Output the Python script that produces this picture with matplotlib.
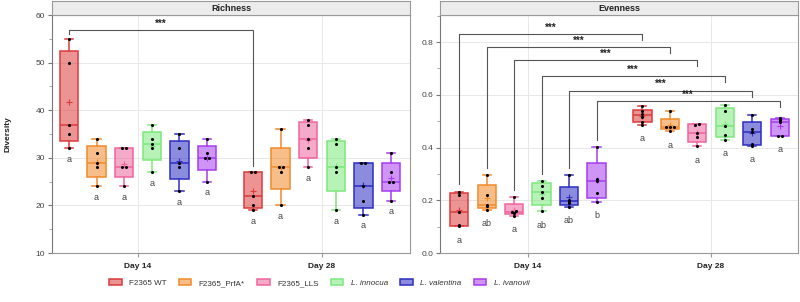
import matplotlib
matplotlib.use('Agg')
import matplotlib.pyplot as plt
from matplotlib.colors import to_rgba
from matplotlib.patches import Patch
from matplotlib.ticker import MultipleLocator
import numpy as np

plt.rcParams['font.family'] = ['Liberation Sans', 'DejaVu Sans']

# strains and sampling days
groups = ['F2365 WT', 'F2365_PrfA*', 'F2365_LLS', 'L. innocua', 'L. valentina', 'L. ivanovii']
italic_groups = ['L. innocua', 'L. valentina', 'L. ivanovii']
days = ['Day 14', 'Day 28']
colors = ['#dd3b3b', '#f28a2a', '#f0649f', '#7de87d', '#2e2ec4', '#a63cf0']

# richness values, one list per strain
richness_d14 = [[55, 50, 37, 35, 32], [34, 31, 29, 28, 24], [32, 32, 28, 28, 24],
                [37, 34, 33, 32, 27], [35, 32, 29, 28, 23], [34, 31, 30, 30, 25]]
richness_d28 = [[27, 27, 22, 20, 19], [36, 28, 28, 27, 20], [38, 37, 34, 32, 28],
                [34, 33, 28, 27, 19], [29, 29, 24, 21, 18], [31, 27, 25, 25, 21]]
richness_letters_d14 = ['a', 'a', 'a', 'a', 'a', 'a']
richness_letters_d28 = ['a', 'a', 'a', 'a', 'a', 'a']

# evenness values
evenness_d14 = [[0.233, 0.220, 0.157, 0.107, 0.101], [0.296, 0.221, 0.184, 0.180, 0.165],
                [0.212, 0.159, 0.157, 0.153, 0.140], [0.272, 0.256, 0.233, 0.210, 0.158],
                [0.295, 0.203, 0.199, 0.188, 0.176], [0.402, 0.279, 0.275, 0.226, 0.195]]
evenness_d28 = [[0.559, 0.538, 0.528, 0.517, 0.498, 0.486], [0.538, 0.479, 0.477, 0.476, 0.461],
                [0.488, 0.487, 0.454, 0.440, 0.404], [0.560, 0.537, 0.480, 0.448, 0.430],
                [0.522, 0.470, 0.458, 0.414, 0.405], [0.513, 0.503, 0.498, 0.443, 0.443]]
evenness_letters_d14 = ['a', 'ab', 'a', 'ab', 'ab', 'b']
evenness_letters_d28 = ['a', 'a', 'a', 'a', 'a', 'a']

# significance brackets: (strain index, label)
richness_sig = [(0, '***')]
evenness_sig = [(0, '***'), (1, '***'), (2, '***'), (3, '***'), (4, '***'), (5, '***')]
evenness_bracket_tops = [0.83, 0.78, 0.73, 0.67, 0.615, 0.575]

GROUP_STEP = 0.15
BOX_W = 0.1
GRAY = '#555555'


def box_stats(vals):
    v = np.array(vals, dtype=float)
    q1, med, q3 = np.percentile(v, [25, 50, 75], method='weibull')
    return dict(med=med, q1=q1, q3=q3, whislo=v.min(), whishi=v.max(),
                mean=v.mean(), fliers=[])


# spread tied points sideways so they don't sit on top of each other
def dot_offsets(vals, tol, step):
    v = np.array(vals, dtype=float)
    order = np.argsort(v)
    offs = np.zeros(len(v))
    clusters = [[order[0]]]
    for i in order[1:]:
        if abs(v[i] - v[clusters[-1][-1]]) < tol:
            clusters[-1].append(i)
        else:
            clusters.append([i])
    for c in clusters:
        k = len(c)
        for j, idx in enumerate(c):
            offs[idx] = (j - (k - 1) / 2) * step
    return offs


def xpos(day, g):
    return day + (g - 2.5) * GROUP_STEP


def draw_panel(ax, d14, d28, let14, let28, tol, letter_gap):
    for day, data, letters in [(0, d14, let14), (1, d28, let28)]:
        for g, vals in enumerate(data):
            x = xpos(day, g)
            c = colors[g]
            ax.bxp([box_stats(vals)], positions=[x], widths=BOX_W, capwidths=0.045,
                   patch_artist=True, showmeans=True, manage_ticks=False,
                   boxprops=dict(facecolor=to_rgba(c, 0.55), edgecolor=c, linewidth=1.1),
                   medianprops=dict(color=c, linewidth=1.1),
                   whiskerprops=dict(color=c, linewidth=1.1),
                   capprops=dict(color=c, linewidth=1.1),
                   meanprops=dict(marker='+', markeredgecolor=c, markersize=4,
                                  markeredgewidth=0.8),
                   zorder=3)
            offs = dot_offsets(vals, tol, 0.022)
            ax.scatter(x + offs, vals, s=5, color='black', zorder=5, linewidths=0)
            ax.text(x, min(vals) - letter_gap, letters[g], ha='center', va='center',
                    fontsize=6.5, color='#444444', zorder=5)


def bracket(ax, g, label, top, left_end, right_end, text_gap):
    x0, x1 = xpos(0, g), xpos(1, g)
    ax.plot([x0, x0, x1, x1], [left_end, top, top, right_end], color=GRAY,
            linewidth=0.8, zorder=2)
    ax.text((x0 + x1) / 2, top + text_gap, label, ha='center', va='center',
            fontsize=7, fontweight='bold', color='#222222', zorder=6)


def style_axes(ax, xlim, ylim, major, minor, fmt):
    ax.set_xlim(*xlim)
    ax.set_ylim(*ylim)
    ax.set_xticks([0, 1])
    ax.set_xticklabels(days, fontsize=6, fontweight='bold', color='#222222')
    ax.yaxis.set_major_locator(MultipleLocator(major))
    ax.yaxis.set_minor_locator(MultipleLocator(minor))
    ax.yaxis.set_major_formatter(fmt)
    ax.tick_params(axis='y', which='major', length=3, width=0.8, color='#777777',
                   labelsize=6, labelcolor='#444444', pad=2)
    ax.tick_params(axis='y', which='minor', length=2, width=0.6, color='#999999')
    ax.tick_params(axis='x', length=3, width=0.8, color='#999999', pad=4)
    ax.grid(True, which='major', color='#e8e8e8', linewidth=0.7, zorder=0)
    ax.set_axisbelow(True)
    for s in ax.spines.values():
        s.set_color('#999999')
        s.set_linewidth(0.8)
    ax.spines['left'].set_color('#777777')


def strip(fig, rect, title):
    sax = fig.add_axes(rect)
    sax.set_facecolor('#ececec')
    sax.set_xticks([])
    sax.set_yticks([])
    for s in sax.spines.values():
        s.set_color('#999999')
        s.set_linewidth(0.8)
    sax.text(0.5, 0.5, title, ha='center', va='center', fontsize=6.5,
             fontweight='bold', color='#222222', transform=sax.transAxes)


fig = plt.figure(figsize=(8.0, 3.02), dpi=100)
ax1 = fig.add_axes([0.065, 0.162, 0.4475, 0.788])
ax2 = fig.add_axes([0.55, 0.162, 0.4475, 0.788])
strip(fig, [0.065, 0.950, 0.4475, 0.046], 'Richness')
strip(fig, [0.55, 0.950, 0.4475, 0.046], 'Evenness')

# richness panel
draw_panel(ax1, richness_d14, richness_d28, richness_letters_d14, richness_letters_d28,
           tol=0.5, letter_gap=2.3)
for g, lab in richness_sig:
    top = max(richness_d14[g]) + 1.8
    bracket(ax1, g, lab, top, max(richness_d14[g]) + 1.0, max(richness_d28[g]) + 1.3, 1.4)
style_axes(ax1, (-0.467, 1.478), (10, 60), 10, 5, '{x:.0f}')
ax1.set_ylabel('Diversity', fontsize=6, fontweight='bold', color='#222222', labelpad=17)

# evenness panel
draw_panel(ax2, evenness_d14, evenness_d28, evenness_letters_d14, evenness_letters_d28,
           tol=0.004, letter_gap=0.052)
for (g, lab), top in zip(evenness_sig, evenness_bracket_tops):
    bracket(ax2, g, lab, top, max(evenness_d14[g]) + 0.027, top - 0.022, 0.025)
style_axes(ax2, (-0.48, 1.475), (0, 0.902), 0.2, 0.1, '{x:.1f}')

handles = [Patch(facecolor=to_rgba(c, 0.55), edgecolor=c, linewidth=1.1) for c in colors]
leg = fig.legend(handles, groups, loc='center', bbox_to_anchor=(0.399, 0.063), ncol=6,
                 frameon=False, fontsize=5.8, handlelength=1.55, handleheight=0.85,
                 handletextpad=0.9, columnspacing=1.55)
for t in leg.get_texts():
    t.set_color('#333333')
    if t.get_text() in italic_groups:
        t.set_style('italic')

fig.savefig('out.png', dpi=100)
